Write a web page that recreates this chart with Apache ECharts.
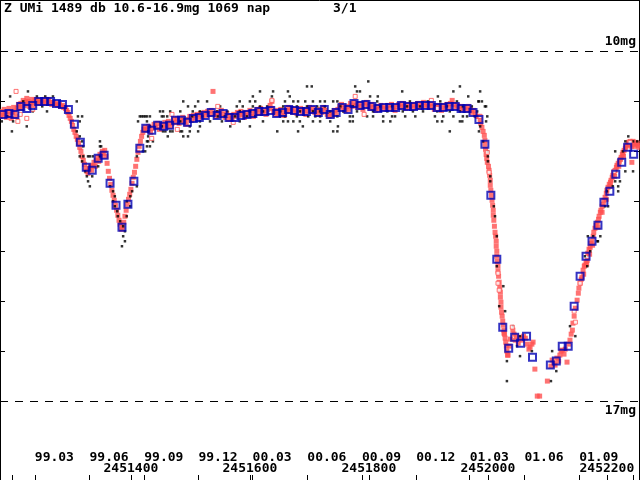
<!DOCTYPE html>
<html>
<head>
<meta charset="utf-8">
<title>Z UMi 1489</title>
<script src="https://cdn.jsdelivr.net/npm/echarts@6.0.0/dist/echarts.min.js"></script>
<style>
  html, body { margin: 0; padding: 0; background: #fff; }
  #chart { width: 640px; height: 480px; }
</style>
</head>
<body>
<div id="chart"></div>
<script>
// 所有儒略日都写成 JD - 2451000
const JD0 = 2451000;

// 轴刻度
const jdTicks = [2451200, 2451400, 2451600, 2451800, 2452000, 2452200];
const jdLabels = [2451400, 2451600, 2451800, 2452000, 2452200];
const monthTicks = [2451238.5, 2451330.5, 2451422.5, 2451513.5, 2451604.5, 2451696.5,
    2451788.5, 2451879.5, 2451969.5, 2452061.5, 2452153.5, 2452244.5];
const monthLabels = ['99.03', '99.06', '99.09', '99.12', '00.03', '00.06',
    '00.09', '00.12', '01.03', '01.06', '01.09'];
const magTicks = [11, 12, 13, 14, 15, 16];

// 黑点：按星等分行 [mag, [JD-2451000 ...]]
const blackRows = [
    [10.6, [799]],
    [10.7, [696, 704, 777, 953]],
    [10.8, [227, 617, 639, 664, 780, 785, 856, 942, 987]],
    [10.9, [197, 242, 256, 269, 605, 637, 667, 802, 815, 916, 967]],
    [11.0, [219, 309, 488, 513, 528, 583, 600, 609, 659, 673, 681, 693, 706, 718, 726, 740, 747, 814, 869, 899, 920, 948, 984, 985, 990]],
    [11.1, [251, 496, 508, 550, 578, 588, 605, 617, 629, 656, 679, 696, 713, 726, 752, 773, 819, 839, 864, 886, 911, 931, 958, 973, 995, 997]],
    [11.2, [235, 259, 449, 454, 466, 483, 504, 516, 545, 562, 583, 600, 622, 651, 684, 706, 718, 735, 757, 780, 807, 831, 857, 874, 891, 915, 936, 953, 982]],
    [11.3, [192, 311, 318, 415, 418, 421, 424, 427, 432, 452, 455, 461, 503, 520, 546, 558, 575, 595, 609, 651, 659, 679, 698, 710, 718, 747, 768, 773, 797, 807, 824, 839, 844, 861, 878, 911, 925, 942, 958, 965, 978, 999]],
    [11.4, [183, 202, 314, 412, 427, 483, 516, 533, 553, 583, 622, 656, 664, 673, 684, 706, 718, 735, 768, 773, 824, 836, 915, 923, 953, 957, 997]],
    [11.5, [225, 432, 452, 499, 516, 567, 600, 689, 748, 987]],
    [11.6, [200, 309, 429, 454, 458, 466, 470, 483, 486, 499, 513, 646, 681, 740, 747, 936, 985]],
    [11.7, [314, 429, 462, 488, 496, 1236]],
    [11.8, [318, 348, 427, 429, 437, 992, 1231, 1244, 1251]],
    [11.9, [320, 348, 350, 427, 432]],
    [12.0, [420, 424, 1000, 1214, 1227]],
    [12.1, [314, 320, 328, 331, 336, 348, 410, 1000]],
    [12.2, [318, 1000]],
    [12.3, [345]],
    [12.4, [323, 1231, 1244]],
    [12.5, [326, 335, 1004]],
    [12.6, [328, 1004, 1214, 1222]],
    [12.7, [331, 365, 410, 1210, 1219]],
    [12.8, [370, 402, 1200, 1219]],
    [12.9, [373, 399]],
    [13.0, [370, 393]],
    [13.1, [373, 399, 1010, 1197, 1202]],
    [13.2, [377]],
    [13.3, [378, 393, 1012]],
    [13.4, [382]],
    [13.5, [387]],
    [13.6, [390]],
    [13.7, [387, 1015, 1168, 1177, 1189]],
    [13.8, [390, 1184, 1185]],
    [13.9, [385]],
    [14.0, [1172]],
    [14.1, [1163]],
    [14.3, [1015, 1167]],
    [14.7, [1026]],
    [15.1, [1019]],
    [15.2, [1029]],
    [15.5, [1042, 1138]],
    [15.7, [1054, 1147]],
    [15.9, [1049]],
    [16.0, [1074, 1108]],
    [16.1, [1054]],
    [16.2, [1032]],
    [16.4, [1115]],
    [16.6, [1032, 1106]]
];

// 红色实心点 [JD-2451000, mag]
const redObs = [
    [181, 11.30], [183, 11.20], [185, 11.28], [187, 11.16], [189, 11.24], [191, 11.32], [193, 11.20], [195, 11.14],
    [197, 11.26], [199, 11.34], [201, 11.22], [203, 11.12], [205, 11.20], [207, 11.30], [209, 11.14], [211, 11.06],
    [213, 11.12], [215, 11.04], [217, 11.14], [219, 10.98], [221, 11.08], [223, 11.02], [225, 10.94], [227, 11.00],
    [229, 11.10], [231, 11.04], [233, 10.96], [235, 11.02], [237, 11.08], [239, 10.98], [241, 10.96], [243, 11.02],
    [245, 10.98], [247, 11.04], [250, 10.98], [252, 11.02], [255, 10.96], [257, 11.04], [260, 11.00], [262, 10.96],
    [265, 11.02], [267, 11.06], [270, 11.02], [272, 11.06], [275, 11.04], [277, 11.08], [280, 11.06], [282, 11.10],
    [285, 11.08], [287, 11.12], [290, 11.14], [292, 11.18], [294, 11.22], [296, 11.28], [298, 11.34], [300, 11.40],
    [302, 11.48], [304, 11.56], [306, 11.62], [308, 11.70], [310, 11.76], [312, 11.84], [314, 11.92], [316, 12.00],
    [318, 12.10], [320, 12.18], [322, 12.26], [324, 12.34], [326, 12.40], [328, 12.44], [330, 12.36], [332, 12.30],
    [334, 12.38], [336, 12.28], [338, 12.22], [340, 12.30], [342, 12.18], [344, 12.12], [346, 12.20], [348, 12.06],
    [350, 12.10], [352, 12.00], [354, 12.04], [356, 11.98], [358, 12.10], [360, 12.24], [362, 12.40], [364, 12.54],
    [366, 12.66], [368, 12.78], [370, 12.88], [372, 12.98], [374, 13.08], [376, 13.18], [378, 13.28], [380, 13.38],
    [382, 13.46], [384, 13.56], [386, 13.52], [388, 13.42], [390, 13.30], [392, 13.18], [394, 13.06], [396, 12.96],
    [398, 12.86], [400, 12.76], [402, 12.64], [404, 12.52], [406, 12.42], [408, 12.30], [410, 12.16], [412, 12.02],
    [414, 11.90], [416, 11.80], [418, 11.70], [420, 11.62], [422, 11.56],
    [424, 11.52], [427, 11.58], [430, 11.50], [433, 11.62], [436, 11.54], [439, 11.46], [442, 11.52], [445, 11.44],
    [448, 11.56], [451, 11.48], [454, 11.52], [457, 11.42], [460, 11.48], [463, 11.40], [466, 11.50], [469, 11.44],
    [472, 11.36], [475, 11.42], [478, 11.34], [481, 11.44], [484, 11.38], [487, 11.32], [490, 11.40], [493, 11.46],
    [496, 11.36], [499, 11.30], [502, 11.38], [505, 11.28], [508, 11.34], [511, 11.26], [514, 11.32], [517, 11.24],
    [520, 11.30], [523, 11.22], [526, 11.28], [529, 11.20], [532, 11.26], [535, 11.18], [538, 10.80], [540, 11.24],
    [543, 11.30], [546, 11.22], [549, 11.28], [552, 11.18], [555, 11.26], [558, 11.32], [561, 11.24], [564, 11.36],
    [567, 11.28], [570, 11.34], [573, 11.26], [576, 11.30], [579, 11.22], [582, 11.28], [585, 11.20], [588, 11.26],
    [591, 11.32], [594, 11.22], [597, 11.28], [600, 11.18], [603, 11.24], [606, 11.30], [609, 11.20], [612, 11.16],
    [615, 11.24], [618, 11.14], [621, 11.22], [624, 11.18], [627, 11.26], [630, 11.16], [634, 11.08], [637, 11.00],
    [637, 11.14], [640, 11.20], [643, 11.26], [646, 11.18], [649, 11.24], [652, 11.16], [655, 11.22], [658, 11.28],
    [661, 11.18], [664, 11.12], [667, 11.20], [670, 11.14], [673, 11.22], [676, 11.16], [679, 11.24], [682, 11.18],
    [685, 11.14], [688, 11.22], [691, 11.16], [694, 11.26], [697, 11.18], [700, 11.12], [703, 11.20], [706, 11.14],
    [709, 11.22], [712, 11.18], [715, 11.26], [718, 11.16], [721, 11.22], [724, 11.12], [727, 11.18], [730, 11.26],
    [733, 11.30], [736, 11.22], [739, 11.28], [742, 11.18], [745, 11.24], [748, 11.16], [751, 11.10], [754, 11.06],
    [757, 11.14], [760, 11.18], [763, 11.10], [766, 11.16], [769, 11.04], [772, 11.10], [775, 11.02], [778, 11.08],
    [781, 11.12], [784, 11.04], [787, 11.10], [790, 11.16], [793, 11.06], [796, 11.02], [799, 11.10], [802, 11.14],
    [805, 11.06], [808, 11.12], [811, 11.18], [814, 11.10], [817, 11.16], [820, 11.08], [823, 11.14], [826, 11.10],
    [829, 11.16], [832, 11.08], [835, 11.14], [838, 11.06], [841, 11.12], [844, 11.18], [847, 11.10], [850, 11.06],
    [853, 11.12], [856, 11.04], [859, 11.10], [862, 11.14], [865, 11.06], [868, 11.12], [871, 11.08], [874, 11.14],
    [877, 11.06], [880, 11.10], [883, 11.04], [886, 11.12], [889, 11.08], [892, 11.02], [895, 11.10], [898, 11.06],
    [901, 11.12], [904, 11.04], [907, 11.10], [910, 11.16], [913, 11.08], [916, 11.14], [919, 11.10], [922, 11.18],
    [925, 11.08], [928, 11.14], [931, 11.06], [934, 11.12], [937, 11.04], [940, 10.98], [943, 11.06], [946, 11.12],
    [949, 11.08], [952, 11.14], [955, 11.10], [958, 11.16], [961, 11.12], [964, 11.18], [967, 11.10], [970, 11.16],
    [973, 11.22], [976, 11.18], [979, 11.26], [982, 11.30],
    [985, 11.30], [987, 11.36], [988, 11.44], [990, 11.52], [992, 11.60], [994, 11.68], [995, 11.78], [995, 11.86],
    [996, 11.96], [997, 12.06], [998, 12.14], [999, 12.22], [1001, 12.30], [1002, 12.38], [1003, 12.48], [1004, 12.58],
    [1004, 12.68], [1005, 12.78], [1006, 12.88], [1007, 12.98], [1008, 13.08], [1009, 13.18], [1009, 13.28], [1010, 13.38],
    [1011, 13.50], [1012, 13.62], [1013, 13.70], [1014, 13.80], [1014, 13.90], [1015, 14.00], [1015, 14.10], [1016, 14.20],
    [1017, 14.30], [1017, 14.40], [1018, 14.50], [1019, 14.62], [1020, 14.72], [1021, 14.82], [1021, 14.92], [1022, 15.02],
    [1022, 15.12], [1023, 15.22], [1024, 15.30], [1025, 15.40], [1026, 15.48], [1027, 15.58], [1028, 15.66], [1029, 15.74],
    [1030, 15.82], [1031, 15.90], [1032, 16.00], [1033, 16.08],
    [1027, 15.64], [1034, 16.08], [1036, 15.90], [1038, 15.76], [1042, 15.58], [1044, 15.66], [1046, 15.78], [1048, 15.70],
    [1051, 15.84], [1054, 15.74], [1057, 15.78], [1060, 15.70], [1063, 15.74], [1066, 15.86], [1069, 15.96], [1071, 15.92],
    [1074, 15.86], [1076, 15.82], [1079, 16.36], [1083, 16.90], [1087, 16.90], [1100, 16.60],
    [1106, 16.30], [1108, 16.18], [1111, 16.24], [1113, 16.28], [1116, 16.14], [1119, 16.20], [1121, 16.08], [1123, 16.00],
    [1125, 15.98], [1128, 16.06], [1130, 15.96], [1133, 16.22], [1136, 15.86], [1138, 15.78], [1140, 15.66], [1142, 15.58],
    [1143, 15.44], [1145, 15.30], [1147, 15.14], [1150, 14.98], [1152, 14.84], [1153, 14.74], [1155, 14.64], [1157, 14.56],
    [1158, 14.52], [1160, 14.38], [1161, 14.46], [1162, 14.30], [1163, 14.28], [1165, 14.22], [1166, 14.26], [1167, 14.18],
    [1168, 14.04], [1170, 13.96], [1171, 14.06], [1172, 13.92], [1173, 13.84], [1175, 13.80], [1176, 13.88], [1177, 13.70],
    [1178, 13.62], [1180, 13.54], [1182, 13.48], [1184, 13.42], [1185, 13.52], [1186, 13.36], [1187, 13.30], [1189, 13.22],
    [1190, 13.18], [1192, 13.10], [1192, 13.22], [1194, 13.06], [1195, 12.98], [1197, 12.92], [1199, 12.84], [1199, 12.96],
    [1200, 12.78], [1202, 12.72], [1204, 12.66], [1206, 12.62], [1206, 12.70], [1207, 12.58], [1209, 12.52], [1210, 12.48],
    [1212, 12.42], [1213, 12.50], [1214, 12.38], [1216, 12.32], [1217, 12.28], [1219, 12.24], [1220, 12.30], [1221, 12.20],
    [1223, 12.16], [1224, 12.12], [1226, 12.06], [1227, 12.02], [1228, 12.10], [1229, 11.98], [1231, 11.94], [1232, 11.90],
    [1234, 11.88], [1236, 11.82], [1237, 11.86], [1239, 11.80], [1241, 11.90], [1242, 12.22], [1244, 11.80], [1246, 11.86],
    [1247, 11.90], [1249, 11.82], [1251, 11.84], [1253, 11.88], [1254, 11.92]
];

// 红色空心点
const redOpenObs = [
    [207, 10.80], [210, 11.40], [214, 11.26], [225, 11.34], [235, 11.16], [435, 11.74], [469, 11.26], [478, 11.56],
    [546, 11.10], [572, 11.42], [637, 10.98], [777, 10.90], [792, 11.26], [905, 10.98], [915, 11.14], [987, 11.30],
    [999, 12.02], [1002, 12.42], [1017, 14.44], [1017, 14.64], [1019, 14.78], [1041, 15.52], [1145, 15.20], [1147, 15.42],
    [1155, 14.64], [1212, 12.40], [1239, 11.82]
];

// 10 天平均值（蓝框）
const meanObs = [
    [185, 11.26], [195, 11.24], [205, 11.26], [215, 11.10], [225, 11.14], [235, 11.08], [245, 11.00], [255, 11.00],
    [265, 11.00], [275, 11.04], [285, 11.06], [295, 11.16], [305, 11.46], [315, 11.82], [325, 12.32], [335, 12.38],
    [345, 12.14], [355, 12.08], [365, 12.64], [375, 13.08], [385, 13.52], [395, 13.06], [405, 12.60], [415, 11.94],
    [425, 11.54], [435, 11.58], [445, 11.48], [455, 11.50], [465, 11.48], [475, 11.38], [485, 11.38], [495, 11.42],
    [505, 11.34], [515, 11.32], [525, 11.28], [535, 11.22], [545, 11.28], [555, 11.24], [565, 11.32], [575, 11.32],
    [585, 11.28], [595, 11.26], [605, 11.24], [615, 11.20], [625, 11.20], [635, 11.18], [645, 11.24], [655, 11.22],
    [665, 11.16], [675, 11.18], [685, 11.20], [695, 11.20], [705, 11.16], [715, 11.22], [725, 11.16], [735, 11.26],
    [745, 11.22], [755, 11.12], [765, 11.16], [775, 11.04], [785, 11.08], [795, 11.06], [805, 11.10], [815, 11.14],
    [825, 11.12], [835, 11.12], [845, 11.12], [855, 11.08], [865, 11.10], [875, 11.10], [885, 11.08], [895, 11.08],
    [905, 11.08], [915, 11.12], [925, 11.12], [935, 11.10], [945, 11.10], [955, 11.14], [965, 11.14], [975, 11.22],
    [985, 11.36], [995, 11.86], [1005, 12.88], [1015, 14.16], [1025, 15.52], [1035, 15.94], [1045, 15.72], [1055, 15.84],
    [1065, 15.70], [1075, 16.12], [1105, 16.28], [1115, 16.20], [1125, 15.90], [1135, 15.90], [1145, 15.10], [1155, 14.50],
    [1165, 14.10], [1175, 13.80], [1185, 13.48], [1195, 13.02], [1205, 12.80], [1215, 12.46], [1225, 12.22], [1235, 11.92],
    [1245, 12.06], [1255, 11.86]
];

const FONT = 'DejaVu Sans Mono';
const textStyle = { fontFamily: FONT, fontSize: 13, fontWeight: 'bold', color: '#000' };

function toPoints(list) {
    return list.map(p => [JD0 + p[0], p[1]]);
}

function blackPoints() {
    const out = [];
    blackRows.forEach(row => {
        row[1].forEach(d => out.push([JD0 + d, row[0]]));
    });
    return out;
}

const xMin = 2451180;
const xMax = 2452254;
const yMin = 8.97;
const yMax = 18.58;

const chart = echarts.init(document.getElementById('chart'));

const yAxisBase = {
    type: 'value',
    inverse: true,
    min: yMin,
    max: yMax,
    axisLine: { show: true, lineStyle: { color: '#000', width: 1 } },
    axisTick: { show: true, inside: true, length: 5, customValues: magTicks, lineStyle: { color: '#000' } },
    axisLabel: { show: false },
    splitLine: { show: false }
};

chart.setOption({
    animation: false,
    backgroundColor: '#fff',
    title: [
        { text: 'Z UMi 1489 db 10.6-16.9mg 1069 nap', left: 4, top: 2, padding: 0, textStyle: textStyle },
        { text: '3/1', left: 333, top: 2, padding: 0, textStyle: textStyle }
    ],
    grid: { left: 0, right: 1, top: 0, bottom: 0, containLabel: false },
    xAxis: [
        {
            type: 'value', min: xMin, max: xMax, position: 'bottom',
            axisLine: { show: false },
            splitLine: { show: false },
            axisTick: {
                show: true, inside: true, length: 5,
                customValues: jdTicks.concat(monthTicks),
                lineStyle: { color: '#000' }
            },
            axisLabel: {
                show: true, inside: true, margin: 11, verticalAlign: 'middle',
                customValues: jdLabels,
                formatter: v => String(v),
                fontFamily: FONT, fontSize: 13, fontWeight: 'bold', color: '#000'
            }
        },
        {
            type: 'value', min: xMin, max: xMax, position: 'bottom',
            axisLine: { show: false },
            splitLine: { show: false },
            axisTick: { show: false },
            axisLabel: {
                show: true, inside: true, margin: 22, verticalAlign: 'middle', align: 'left',
                customValues: monthTicks.slice(0, monthLabels.length),
                formatter: v => monthLabels[monthTicks.indexOf(v)],
                fontFamily: FONT, fontSize: 13, fontWeight: 'bold', color: '#000'
            }
        },
        {
            type: 'value', min: xMin, max: xMax, position: 'top',
            axisLine: { show: true, lineStyle: { color: '#000', width: 1 } },
            splitLine: { show: false },
            axisTick: { show: false },
            axisLabel: { show: false }
        }
    ],
    yAxis: [
        Object.assign({ position: 'left' }, yAxisBase),
        Object.assign({ position: 'right' }, yAxisBase)
    ],
    series: [
        {
            name: 'red',
            type: 'scatter',
            symbol: 'rect',
            symbolSize: 5,
            itemStyle: { color: '#ff5050' },
            data: toPoints(redObs),
            silent: true,
            markLine: {
                silent: true,
                symbol: ['none', 'none'],
                lineStyle: { color: '#000', width: 1, type: [8, 7] },
                label: Object.assign({ show: true }, textStyle),
                data: [
                    { yAxis: 10, label: { formatter: '10mg', position: 'insideEndTop', distance: 3 } },
                    { yAxis: 17, label: { formatter: '17mg', position: 'insideEndBottom', distance: 3 } }
                ]
            }
        },
        {
            name: 'black',
            type: 'scatter',
            symbol: 'rect',
            symbolSize: [2.5, 2.5],
            itemStyle: { color: '#000' },
            data: blackPoints(),
            silent: true
        },
        {
            name: 'redOpen',
            type: 'scatter',
            symbol: 'rect',
            symbolSize: 4,
            itemStyle: { color: '#fff', borderColor: '#ff5050', borderWidth: 1 },
            data: toPoints(redOpenObs),
            silent: true
        },
        {
            name: 'mean',
            type: 'scatter',
            symbol: 'rect',
            symbolSize: 7,
            itemStyle: { color: 'rgba(0,0,0,0)', borderColor: '#0000b4', borderWidth: 2 },
            data: toPoints(meanObs),
            silent: true
        }
    ]
});
</script>
</body>
</html>
